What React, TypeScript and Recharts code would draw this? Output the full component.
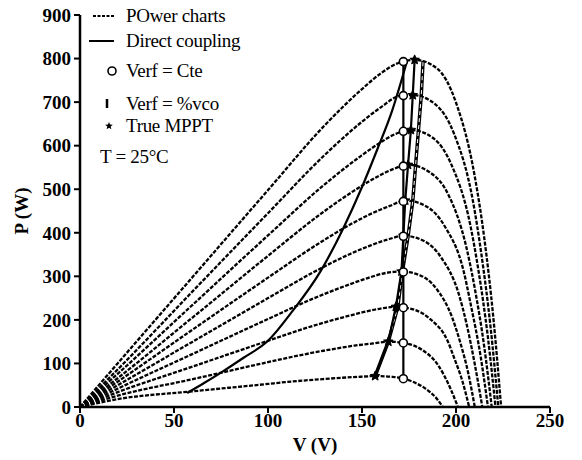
import { ComposedChart, Line, XAxis, YAxis } from "recharts";

const vTicks = [0, 50, 100, 150, 200, 250];
const pTicks = [0, 100, 200, 300, 400, 500, 600, 700, 800, 900];

// P-V curves as [V, P], lowest irradiance first
const curve1 = [[0, 0], [20, 18], [60, 36], [100, 53], [109, 57], [129, 64], [139, 67], [149, 69.5], [157, 71], [166.5, 69], [174.5, 62], [182, 47], [186, 35], [190, 18], [193, 0]];
const curve2 = [[0, 0], [20, 26], [60, 64], [100, 103], [116, 118], [136, 134], [146, 141], [156, 146], [164, 150], [173.5, 146], [182, 131], [190, 99], [193.5, 74], [197.5, 38], [201, 0]];
const curve3 = [[0, 0], [20, 34], [60, 93], [100, 152], [120, 181], [140, 206], [150, 217], [160, 226], [168, 230], [178, 223], [186.5, 201], [195.5, 152], [199, 113], [203.5, 58], [207, 0]];
const curve4 = [[0, 0], [20, 42], [60, 122], [100, 202], [123, 247], [143, 281], [153, 296], [163, 308], [171, 311], [181, 302], [189.5, 272], [198, 205], [202, 152], [206.5, 78], [210, 0]];
const curve5 = [[0, 0], [20, 50], [60, 150], [100, 250], [124, 309], [144, 352], [154, 370], [164, 385], [172, 393], [183, 381], [192, 344], [201.5, 259], [205.5, 193], [210, 98], [214, 0]];
const curve6 = [[0, 0], [20, 58], [60, 178], [100, 297], [125, 370], [145, 422], [155, 444], [165, 462], [173, 474], [184.5, 460], [194, 415], [204, 313], [208, 232], [213, 119], [217, 0]];
const curve7 = [[0, 0], [20, 66], [60, 206], [100, 347], [127, 440], [147, 500], [157, 526], [167, 547], [174.5, 556], [186, 539], [196, 487], [205.5, 367], [210, 272], [215, 139], [219, 0]];
const curve8 = [[0, 0], [20, 76], [60, 235], [100, 394], [129, 507], [149, 575], [159, 605], [169, 629], [176, 636], [188, 617], [197.5, 557], [207.5, 420], [212, 312], [217, 159], [221, 0]];
const curve9 = [[0, 0], [20, 86], [60, 266], [100, 445], [130, 578], [150, 655], [160, 688], [170, 714], [177, 716], [189, 695], [199, 627], [209, 473], [213.5, 351], [218.5, 179], [222.5, 0]];
const curve10 = [[0, 0], [20, 100], [60, 299], [100, 498], [130, 646], [150, 730], [160, 766], [170, 791], [178, 797], [190, 777], [200, 699], [210, 529], [215, 389], [220, 199], [224, 0]];

const directCoupling = [[57, 32], [66, 55], [75, 79], [87, 113], [100, 152], [113, 220], [128, 312], [140, 410], [150, 505], [158, 590], [166, 680], [174, 795]];
const verfCte = [[172, 65], [172, 147], [172, 228], [172, 310], [172, 392], [172, 472], [172, 553], [172, 633], [172, 715], [172, 793]];
const verfVco = [[157, 71], [164, 150], [169, 229], [171.5, 311], [174.5, 392], [177, 473], [178.5, 555], [180, 634], [181.5, 714], [182.5, 795]];
const trueMppt = [[157, 71], [164, 150], [168, 230], [171, 311], [172, 393], [173, 474], [174.5, 556], [176, 636], [177, 716], [178, 797]];

const pvCurves = [curve1, curve2, curve3, curve4, curve5, curve6, curve7, curve8, curve9, curve10];

const toPts = (arr: number[][]) => arr.map(([v, p]) => ({ v, p }));

const serif = "'Liberation Serif', 'Times New Roman', serif";
const tickStyle = { fontFamily: serif, fontSize: 19, fontWeight: 700, fill: "#000" };

const starPath = (cx: number, cy: number, r: number) => {
  const pts: string[] = [];
  for (let i = 0; i < 10; i++) {
    const rr = i % 2 === 0 ? r : r * 0.45;
    const a = (Math.PI / 5) * i - Math.PI / 2;
    pts.push(`${cx + rr * Math.cos(a)},${cy + rr * Math.sin(a)}`);
  }
  return `M${pts.join("L")}Z`;
};

const CircleDot = (props: any) => (
  <circle key={`c-${props.index}`} cx={props.cx} cy={props.cy} r={4} fill="#fff" stroke="#000" strokeWidth={1.6} />
);

const StarDot = (props: any) => (
  <path key={`s-${props.index}`} d={starPath(props.cx, props.cy, 5)} fill="#000" stroke="#000" strokeWidth={1} />
);

const LegendBox = () => {
  const row = (y: number, sym: React.ReactNode, text: string) => (
    <div style={{ position: "absolute", left: 0, top: y - 11, height: 22, display: "flex", alignItems: "center" }}>
      <svg width={38} height={22} style={{ display: "block" }}>{sym}</svg>
      <span style={{ fontFamily: serif, fontSize: 19, color: "#000", whiteSpace: "nowrap", letterSpacing: -0.3 }}>{text}</span>
    </div>
  );
  return (
    <div style={{ position: "absolute", left: 88, top: 0, width: 200, height: 170 }}>
      {row(16, <line x1={5} x2={26} y1={11} y2={11} stroke="#000" strokeWidth={2} strokeDasharray="3 1.5" />, "POwer charts")}
      {row(41, <line x1={1} x2={26} y1={11} y2={11} stroke="#000" strokeWidth={2} />, "Direct coupling")}
      {row(71, <circle cx={24} cy={11} r={4} fill="#fff" stroke="#000" strokeWidth={1.6} />, "Verf = Cte")}
      {row(104, <line x1={19} x2={19} y1={6} y2={15} stroke="#000" strokeWidth={2.5} />, "Verf = %vco")}
      {row(126, <path d={starPath(21, 11, 4)} fill="#000" />, "True MPPT")}
      <div style={{ position: "absolute", left: 12, top: 146, fontFamily: serif, fontSize: 19, color: "#000", whiteSpace: "nowrap", letterSpacing: -0.3 }}>
        T = 25°C
      </div>
    </div>
  );
};

export default function App() {
  return (
    <div style={{ position: "absolute", left: 0, top: 0, width: 582, height: 460, background: "#fff" }}>
      <ComposedChart width={582} height={460} margin={{ top: 15, right: 32, bottom: 0, left: 0 }}>
        <XAxis
          type="number"
          dataKey="v"
          domain={[0, 250]}
          ticks={vTicks}
          interval={0}
          allowDuplicatedCategory={false}
          height={53}
          tick={tickStyle}
          tickSize={6}
          tickMargin={1}
          axisLine={{ stroke: "#000", strokeWidth: 2.5 }}
          tickLine={{ stroke: "#000", strokeWidth: 2 }}
          label={{ value: "V (V)", position: "insideBottom", offset: 9, style: { fontFamily: serif, fontSize: 19, fontWeight: 700, fill: "#000" } }}
        />
        <YAxis
          type="number"
          dataKey="p"
          domain={[0, 900]}
          ticks={pTicks}
          interval={0}
          width={80}
          tick={tickStyle}
          tickSize={6}
          tickMargin={3}
          axisLine={{ stroke: "#000", strokeWidth: 2.5 }}
          tickLine={{ stroke: "#000", strokeWidth: 2 }}
          label={{ value: "P (W)", angle: -90, position: "insideLeft", offset: 21, style: { fontFamily: serif, fontSize: 19, fontWeight: 700, fill: "#000", textAnchor: "middle" } }}
        />
        {pvCurves.map((c, i) => (
          <Line
            key={`pv-${i}`}
            data={toPts(c)}
            dataKey="p"
            type="monotone"
            stroke="#000"
            strokeWidth={2.3}
            strokeDasharray="4 1.5"
            dot={false}
            isAnimationActive={false}
          />
        ))}
        <Line data={toPts(directCoupling)} dataKey="p" type="monotone" stroke="#000" strokeWidth={2.2} dot={false} isAnimationActive={false} />
        <Line data={toPts(verfVco)} dataKey="p" type="linear" stroke="#000" strokeWidth={3.5} dot={false} isAnimationActive={false} />
        <Line data={toPts(verfVco)} dataKey="p" type="linear" stroke="#fff" strokeWidth={1} strokeDasharray="4 3" dot={false} isAnimationActive={false} />
        <Line data={toPts(trueMppt)} dataKey="p" type="linear" stroke="#000" strokeWidth={2.2} dot={StarDot} isAnimationActive={false} />
        <Line data={toPts(verfCte)} dataKey="p" type="linear" stroke="#000" strokeWidth={2.2} dot={CircleDot} isAnimationActive={false} />
      </ComposedChart>
      <LegendBox />
    </div>
  );
}
